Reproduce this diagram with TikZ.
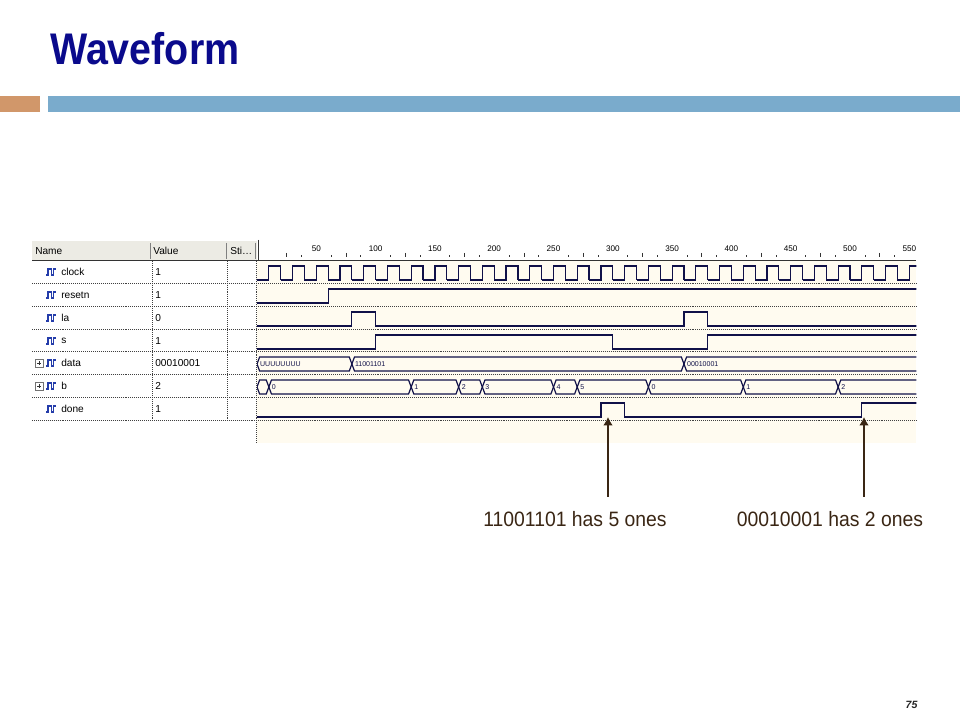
\documentclass[tikz,border=0pt]{standalone}
\usepackage{fontspec}
\setmainfont{Liberation Sans}
\usepackage{graphicx}
\usepackage{xcolor}
\usetikzlibrary{
    arrows.meta,
    calc,
    positioning
}
\definecolor{titleblue}{RGB}{10,10,140}
\definecolor{barorange}{RGB}{209,151,106}
\definecolor{barblue}{RGB}{122,171,204}
\definecolor{wavebg}{RGB}{255,251,240}
\definecolor{waveline}{RGB}{16,16,72}
\definecolor{headbg}{RGB}{236,235,228}
\definecolor{iconblue}{RGB}{36,60,170}
\definecolor{annbrown}{RGB}{58,38,20}
\tikzset{
    wave/.style={draw=waveline, line width=0.85pt},
    rowsep/.style={draw=black!75, line width=0.5pt, dash pattern=on 0.7pt off 0.7pt},
    paneltext/.style={anchor=west, inner sep=0pt, font=\fontsize{7.2}{8}\selectfont},
    buslabel/.style={anchor=west, inner sep=0pt, text=waveline, font=\fontsize{5}{5}\selectfont},
    rulerlabel/.style={inner sep=0pt, font=\fontsize{5.8}{6}\selectfont},
    sigicon/.style={draw=iconblue, line width=0.9pt},
    plusbox/.style={draw=black!55, line width=0.5pt},
    annarrow/.style={draw=annbrown, line width=2.1pt, -{Latex[length=6pt, width=7pt]}},
    anntext/.style={anchor=base, inner sep=0pt, text=annbrown, font=\fontsize{14.8}{16}\selectfont}
}

\begin{document}
\begin{tikzpicture}[x=0.025cm, y=-0.025cm]
                        \useasboundingbox (0, 0) rectangle (960, 720);
                        \fill[white] (0, 0) rectangle (960, 720);
                        % title and bars
                        \node[anchor=base west, inner sep=0pt, text=titleblue] (title) at (50, 65)
                            {\scalebox{0.89}[1]{\fontsize{31.5}{32}\selectfont\bfseries Waveform}};
                        \fill[barorange] (0, 96) rectangle (40, 112);
                        \fill[barblue] (48, 96) rectangle (960, 112);
                        % header row
                        \fill[headbg] (32, 241) rectangle (257, 260);
                        \fill[white] (258, 242) rectangle (916, 259);
                        \draw[black!50]
                        (150, 243) -- (150, 259)
                        (226, 243) -- (226, 259)
                        (255, 243) -- (255, 259);
                        \draw[black!80, line width=0.6pt] (258, 240) -- (258, 260);
                        \draw[black!80, line width=0.7pt] (32, 260) -- (916, 260);
                        \node[paneltext] (hname) at (35, 251) {Name};
                        \node[paneltext] (hvalue) at (153, 251) {Value};
                        \node[paneltext] (hsti) at (230, 251) {Sti\dots};
                        % waves, 1.186 px per ns
                        \begin{scope}[shift={(257, 0)}, xscale=1.186]
                            \clip (0, 238) rectangle (556, 445);
                            \fill[wavebg] (0, 261) rectangle (556, 443);
                            \foreach \t in {25, 75, ..., 525}
                                \draw[black!80] (\t, 253) -- (\t, 257);
                            \foreach \t in {37.5, 62.5, ..., 537.5}
                                \draw[black!80] (\t, 255.5) -- (\t, 257);
                            \foreach \t in {50, 100, ..., 550}
                                \node[rulerlabel] (tick\t) at (\t, 249) {\t};
                            % clock
                            \foreach \k in {0, ..., 27}
                                \draw[wave] ({20*\k}, 280) -- ({20*\k + 10}, 280) -- ({20*\k + 10}, 266)
                                -- ({20*\k + 20}, 266) -- ({20*\k + 20}, 280);
                            % resetn, la, s, done
                            \draw[wave] (0, 303) -| (60, 289) -- (560, 289);
                            \draw[wave] (0, 326) -| (80, 312) -| (100, 326) -| (360, 312) -| (380, 326) -- (560, 326);
                            \draw[wave] (0, 349) -| (100, 335) -| (300, 349) -| (380, 335) -- (560, 335);
                            \draw[wave] (0, 417) -| (290, 403) -| (310, 417) -| (510, 403) -- (560, 403);
                            % data
                            \foreach \a/\b/\v in {0/80/UUUUUUUU, 80/360/11001101, 360/600/00010001} {
                                \draw[wave] (\a, 364) -- (\a + 2.2, 357) -- (\b - 2.2, 357) -- (\b, 364)
                                -- (\b - 2.2, 371) -- (\a + 2.2, 371) -- cycle;
                                \node[buslabel] (data\a) at (\a + 2.4, 364) {\v};
                            }
                            % b
                            \foreach \a/\b/\v in {0/10/{}, 10/130/0, 130/170/1, 170/190/2, 190/250/3,
                                250/270/4, 270/330/5, 330/410/0, 410/490/1, 490/600/2} {
                                \draw[wave] (\a, 387) -- (\a + 2.2, 380) -- (\b - 2.2, 380) -- (\b, 387)
                                -- (\b - 2.2, 394) -- (\a + 2.2, 394) -- cycle;
                                \node[buslabel] (b\a) at (\a + 2.4, 387) {\v};
                            }
                        \end{scope}
                        % grid of the list
                        \foreach \y in {283, 306, 329, 351, 374, 397, 420}
                            \draw[rowsep] (32, \y) -- (916, \y);
                        \draw[rowsep]
                        (152, 261) -- (152, 420)
                        (227, 261) -- (227, 420)
                        (256, 261) -- (256, 443);
                        % names and values
                        \foreach \n/\c in {clock/272, resetn/295, la/318, s/341, data/363, b/386, done/409} {
                            \draw[sigicon] (46, \c + 3) -- (48, \c + 3) -- (48, \c - 3) -- (51.5, \c - 3)
                            -- (51.5, \c + 3) -- (53.5, \c + 3) -- (53.5, \c - 3) -- (56, \c - 3);
                            \node[paneltext] (name-\n) at (61, \c) {\n};
                        }
                        \foreach \c in {363, 386} {
                            \draw[plusbox] (35, \c - 4) rectangle (43, \c + 4);
                            \draw[black!80, line width=0.5pt] (37, \c) -- (41, \c) (39, \c - 2) -- (39, \c + 2);
                        }
                        \foreach \v/\c [count=\i] in {1/272, 1/295, 0/318, 1/341, 00010001/363, 2/386, 1/409}
                            \node[paneltext] (val\i) at (155, \c) {\v};
                        % notes
                        \node[anntext] (note5) at (575, 527) {\scalebox{0.93}[1]{11001101 has 5 ones}};
                        \node[anntext] (note2) at (830, 527) {\scalebox{0.93}[1]{00010001 has 2 ones}};
                        \coordinate (tip5) at (608, 417);
                        \coordinate (foot5) at (608, 497);
                        \coordinate (tip2) at (864, 417);
                        \coordinate (foot2) at (864, 497);
                        \draw[annarrow] (foot5) -- (tip5);
                        \draw[annarrow] (foot2) -- (tip2);
                        \node[anchor=base, inner sep=0pt, text=black!85, font=\fontsize{7.5}{8}\selectfont\bfseries\itshape]
                            (pagenum) at (911.5, 708) {75};
                    \end{tikzpicture}
\end{document}
